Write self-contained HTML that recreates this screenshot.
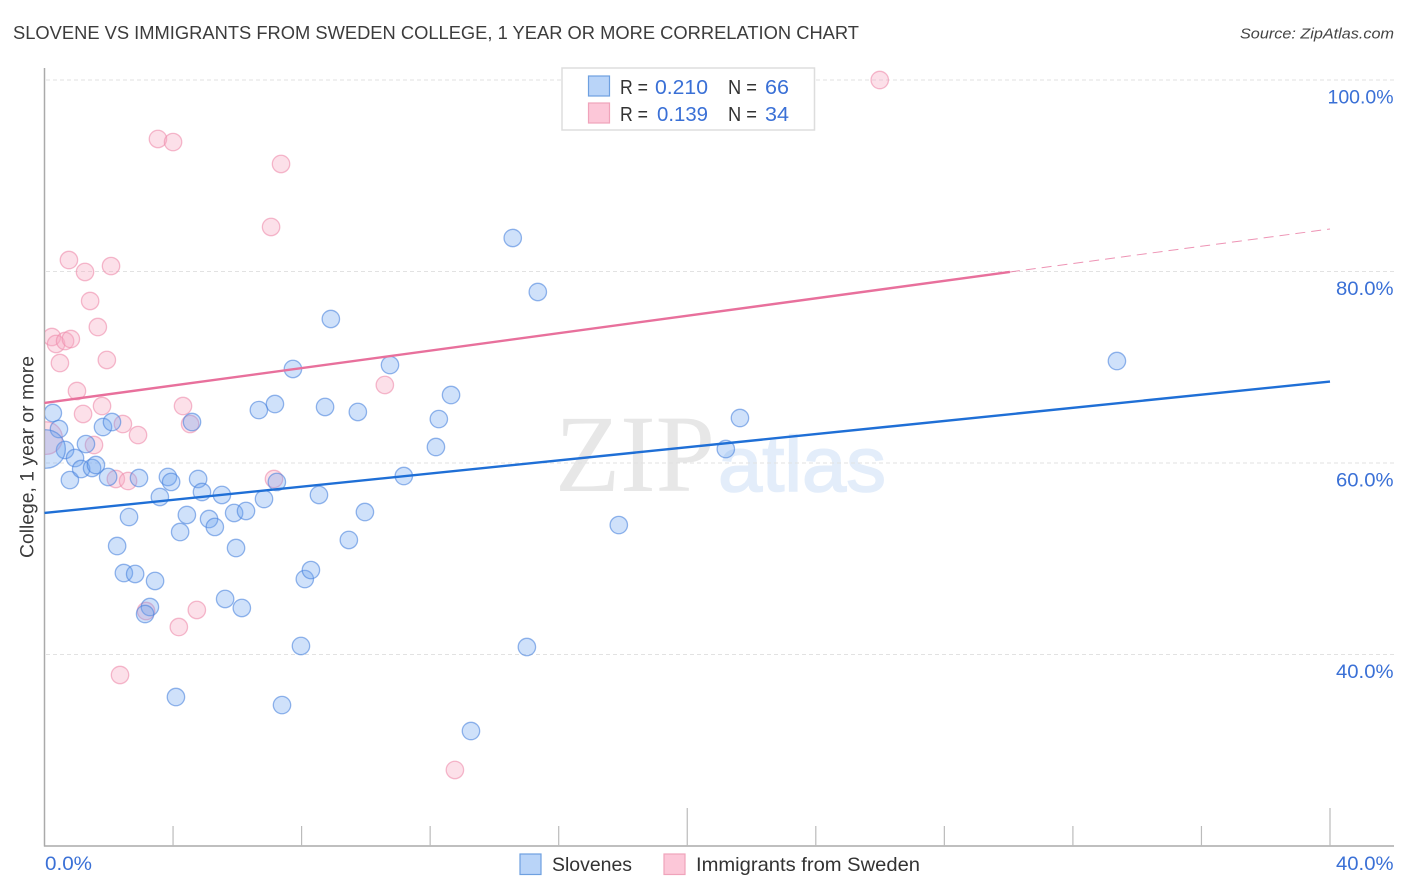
<!DOCTYPE html>
<html lang="en">
<head>
<meta charset="utf-8">
<title>Slovene vs Immigrants from Sweden College Correlation Chart</title>
<style>
html,body{margin:0;padding:0;background:#fff;width:1406px;height:892px;overflow:hidden}
svg{display:block;font-family:"Liberation Sans",sans-serif}
</style>
</head>
<body>
<svg id="chart" xmlns="http://www.w3.org/2000/svg" width="1406" height="892" viewBox="0 0 1406 892">
  <defs>
    <clipPath id="plot-clip"><rect x="45" y="60" width="1349" height="786"/></clipPath>
  </defs>
  <rect x="0" y="0" width="1406" height="892" fill="#ffffff"/>
  <text x="13" y="39" font-size="18.5" fill="#3c3c3c" textLength="846" lengthAdjust="spacingAndGlyphs">SLOVENE VS IMMIGRANTS FROM SWEDEN COLLEGE, 1 YEAR OR MORE CORRELATION CHART</text>
  <text x="1394" y="38.5" font-size="15" font-style="italic" fill="#444444" text-anchor="end" textLength="154" lengthAdjust="spacingAndGlyphs">Source: ZipAtlas.com</text>
  <g>
    <text x="555" y="491" font-family="'Liberation Serif',serif" font-size="110" fill="#e7e7e7" textLength="160" lengthAdjust="spacingAndGlyphs">ZIP</text>
    <text x="718" y="491" font-family="'Liberation Sans',sans-serif" font-size="78" fill="#e3edfa" stroke="#e3edfa" stroke-width="1.6" textLength="168" lengthAdjust="spacingAndGlyphs">atlas</text>
  </g>
  <g id="grid"></g>
  <g id="axes"></g>
  <g id="points" clip-path="url(#plot-clip)"></g>
  <g id="trends"></g>
  <g id="labels"></g>
  <text transform="translate(33.5,457) rotate(-90)" font-size="19" fill="#3c3c3c" text-anchor="middle" textLength="202" lengthAdjust="spacingAndGlyphs">College, 1 year or more</text>

  <g>
    <rect x="562" y="68" width="252.5" height="62" fill="#ffffff" stroke="#dddddd" stroke-width="1.5"/>
    <rect x="588.5" y="76" width="21" height="20" fill="#b9d4f8" stroke="#6ea0e0" stroke-width="1.2"/>
    <rect x="588.5" y="103" width="21" height="20" fill="#fcc7d8" stroke="#f0a3bb" stroke-width="1.2"/>
    <text x="620" y="94" font-size="20" fill="#333333" textLength="28" lengthAdjust="spacingAndGlyphs">R =</text>
    <text x="655" y="94" font-size="20" fill="#3a70d6" textLength="53" lengthAdjust="spacingAndGlyphs">0.210</text>
    <text x="728" y="94" font-size="20" fill="#333333" textLength="29" lengthAdjust="spacingAndGlyphs">N =</text>
    <text x="765" y="94" font-size="20" fill="#3a70d6" textLength="24" lengthAdjust="spacingAndGlyphs">66</text>
    <text x="620" y="121" font-size="20" fill="#333333" textLength="28" lengthAdjust="spacingAndGlyphs">R =</text>
    <text x="657" y="121" font-size="20" fill="#3a70d6" textLength="51" lengthAdjust="spacingAndGlyphs">0.139</text>
    <text x="728" y="121" font-size="20" fill="#333333" textLength="29" lengthAdjust="spacingAndGlyphs">N =</text>
    <text x="765" y="121" font-size="20" fill="#3a70d6" textLength="24" lengthAdjust="spacingAndGlyphs">34</text>
  </g>

  <g>
    <g>
      <rect x="520" y="854" width="21" height="20.5" fill="#b9d4f8" stroke="#6ea0e0" stroke-width="1.2"/>
      <text x="552" y="871" font-size="19.5" fill="#333333" textLength="80" lengthAdjust="spacingAndGlyphs">Slovenes</text>
    </g>
    <g>
      <rect x="664" y="854" width="21" height="20.5" fill="#fcc7d8" stroke="#f0a3bb" stroke-width="1.2"/>
      <text x="696" y="871" font-size="19.5" fill="#333333" textLength="224" lengthAdjust="spacingAndGlyphs">Immigrants from Sweden</text>
    </g>
  </g>
</svg>
<script>
// ---- Chart data (percent values) ----
const sloveneX = [0.26,0.45,0.64,0.95,0.79,1.14,1.29,1.48,1.60,1.82,2.10,1.98,2.94,2.63,2.26,2.47,2.82,3.44,3.28,3.13,3.59,3.84,3.94,4.43,4.22,4.59,4.78,4.90,5.12,5.30,5.52,5.90,6.27,5.96,5.62,6.14,4.09,7.39,7.98,8.10,8.29,6.83,7.23,6.67,7.17,7.73,8.91,8.73,8.54,9.47,9.97,9.75,10.75,11.18,12.18,12.27,12.65,13.27,15.01,14.57,15.35,17.87,21.20,21.64,33.37,0.05];
const sloveneY = [65.22,63.55,61.36,60.52,58.22,59.37,61.98,59.48,59.79,63.76,64.28,58.54,58.43,54.36,51.33,48.51,48.41,47.68,44.96,44.23,56.45,58.54,58.02,54.57,52.79,64.28,58.33,56.97,54.15,53.32,56.66,54.78,54.99,51.12,45.80,44.86,35.56,34.72,40.89,47.88,48.82,56.24,58.02,65.53,66.16,69.82,75.04,65.85,56.66,51.96,54.88,65.33,70.23,58.64,61.67,64.59,67.10,32.01,40.78,83.50,77.86,53.52,61.46,64.70,70.65,61.46];
const sloveneWeights = [1,1,1,1,1,1,1,1,1,1,1,1,1,1,1,1,1,1,1,1,1,1,1,1,1,1,1,1,1,1,1,1,1,1,1,1,1,1,1,1,1,1,1,1,1,1,1,1,1,1,1,1,1,1,1,1,1,1,1,1,1,1,1,1,1,4.9];
const immigrantX = [25.99,3.53,4.00,7.36,7.05,0.76,1.26,2.07,1.42,1.66,0.23,0.36,0.64,0.82,1.94,0.48,1.01,1.20,1.79,2.44,2.91,1.54,4.31,4.53,10.59,2.22,2.60,7.14,3.16,4.74,4.18,2.35,12.77,0.05];
const immigrantY = [100,93.84,93.52,91.23,84.65,81.20,79.95,80.57,76.92,74.20,73.16,72.43,72.74,72.95,70.76,70.44,67.52,65.12,65.95,64.07,62.92,61.88,65.95,64.07,68.15,58.33,58.12,58.33,44.54,44.65,42.87,37.86,27.94,62.6];
const immigrantWeights = [1,1,1,1,1,1,1,1,1,1,1,1,1,1,1,1,1,1,1,1,1,1,1,1,1,1,1,1,1,1,1,1,1,3.5];
const sloveneTrendX = [0,40];
const sloveneTrendY = [54.78,68.51];
const immigrantTrendX = [0,30.04];
const immigrantTrendY = [66.27,79.95];
const immigrantForecastX = [30.04,40];
const immigrantForecastY = [79.95,84.44];
const yTicks = [100,80,60,40];
const yTickLabels = ["100.0%","80.0%","60.0%","40.0%"];
const xTicks = [0,4,8,12,16,20,24,28,32,36,40];
const xMajorTicks = [20,40];
const xEndLabels = ["0.0%","40.0%"];

// ---- Axis functions ----
function xScale(v){ return 44.5 + v * 32.1375; }
function yScale(v){ return 80 + (100 - v) * 9.575; }
function radius(w){ return 8.7 * Math.sqrt(w); }

const NS = "http://www.w3.org/2000/svg";
function make(tag, attrs, parent){
  const el = document.createElementNS(NS, tag);
  for (const k in attrs) el.setAttribute(k, attrs[k]);
  parent.appendChild(el);
  return el;
}
const grid = document.getElementById("grid");
const axes = document.getElementById("axes");
const points = document.getElementById("points");
const trends = document.getElementById("trends");
const labels = document.getElementById("labels");

// gridlines + y labels
yTicks.forEach(function(t, i){
  const line = make("line", {x1:46, x2:1394, y1:yScale(t), y2:yScale(t), stroke:"#e2e2e2", "stroke-width":1, "stroke-dasharray":"4 3"}, grid);
  
  
  const lab = make("text", {x:1393.5, y:yScale(t)+23.5, "font-size":19.5, fill:"#3a70d6", "text-anchor":"end", textLength:(t === 100 ? 66 : 57.5), lengthAdjust:"spacingAndGlyphs"}, labels);
  
  
  lab.textContent = yTickLabels[i];
});

// axis lines
const yAxis = make("line", {x1:44.5, x2:44.5, y1:68, y2:846.5, stroke:"#aaaaaa", "stroke-width":1.5}, axes);


const xAxis = make("line", {x1:44, x2:1394, y1:846, y2:846, stroke:"#aaaaaa", "stroke-width":1.5}, axes);


xTicks.slice(1).forEach(function(t){
  const top = xMajorTicks.indexOf(t) >= 0 ? 808 : 826;
  const tick = make("line", {x1:xScale(t), x2:xScale(t), y1:top, y2:846, stroke:"#bbbbbb", "stroke-width":1.2}, axes);
  
  
});

// x end labels
const xLabStart = make("text", {x:xScale(xTicks[0])+0.5, y:870, "font-size":19.5, fill:"#3a70d6", textLength:47, lengthAdjust:"spacingAndGlyphs"}, labels);


xLabStart.textContent = xEndLabels[0];
const xLabEnd = make("text", {x:1393.5, y:870, "font-size":19.5, fill:"#3a70d6", "text-anchor":"end", textLength:57.5, lengthAdjust:"spacingAndGlyphs"}, labels);


xLabEnd.textContent = xEndLabels[1];

// points
immigrantX.forEach(function(x, i){
  const c = make("circle", {cx:xScale(x), cy:yScale(immigrantY[i]), r:radius(immigrantWeights[i]), fill:"rgba(248,170,195,0.36)", stroke:"rgba(238,140,172,0.6)", "stroke-width":1.3}, points);
  
  
});
sloveneX.forEach(function(x, i){
  const c = make("circle", {cx:xScale(x), cy:yScale(sloveneY[i]), r:radius(sloveneWeights[i]), fill:"rgba(110,165,240,0.33)", stroke:"rgba(70,130,220,0.58)", "stroke-width":1.3}, points);
  
  
});

// trend lines
const forecast = make("line", {x1:xScale(immigrantForecastX[0]), y1:yScale(immigrantForecastY[0]), x2:xScale(immigrantForecastX[1]), y2:yScale(immigrantForecastY[1]), stroke:"#e8709c", "stroke-width":1, "stroke-dasharray":"10 6", opacity:0.75}, trends);


const trendB = make("line", {x1:xScale(sloveneTrendX[0]), y1:yScale(sloveneTrendY[0]), x2:xScale(sloveneTrendX[1]), y2:yScale(sloveneTrendY[1]), stroke:"#1f6fd6", "stroke-width":2.4}, trends);


const trendP = make("line", {x1:xScale(immigrantTrendX[0]), y1:yScale(immigrantTrendY[0]), x2:xScale(immigrantTrendX[1]), y2:yScale(immigrantTrendY[1]), stroke:"#e8709c", "stroke-width":2.4}, trends);


</script>
</body>
</html>
